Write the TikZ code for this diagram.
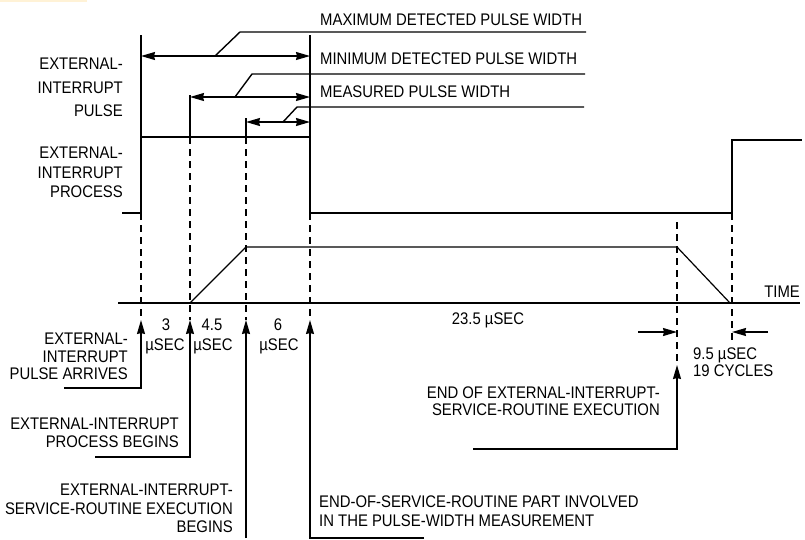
\documentclass[tikz,border=0pt]{standalone}
\usepackage{fontspec}
\setmainfont[FakeStretch=0.885]{Liberation Sans}
\usetikzlibrary{arrows.meta}
\definecolor{band}{RGB}{255,242,214}

\begin{document}
\begin{tikzpicture}[x=1pt,y=-1pt,
    sig/.style={line width=1.4pt},
    guide/.style={line width=1.1pt,dash pattern=on 7pt off 5pt},
    lbl/.style={inner sep=0pt,font=\fontsize{16.8}{#1}\selectfont},
    lbl/.default=18.5,
    tip/.style={-{Stealth[length=14pt,width=8pt,inset=1pt]}},
    dim/.style={{Stealth[length=14pt,width=8pt,inset=1pt]}-{Stealth[length=14pt,width=8pt,inset=1pt]}}]
  \useasboundingbox (0,0) rectangle (805,539);
  \fill[band] (0,0) rectangle (87,2);

  % labels on the left
  \node[lbl=23.5,align=right,anchor=north east] (pulse) at (123,58)
    {EXTERNAL-\\INTERRUPT\\PULSE};
  \node[lbl=19.5,align=right,anchor=north east] (proc) at (123,147)
    {EXTERNAL-\\INTERRUPT\\PROCESS};
  \node[lbl,anchor=east] (time) at (800,292) {TIME};

  % widths at the top
  \node[lbl,anchor=west] (maxw) at (320,20) {MAXIMUM DETECTED PULSE WIDTH};
  \node[lbl,anchor=west] (minw) at (320,59) {MINIMUM DETECTED PULSE WIDTH};
  \node[lbl,anchor=west] (meas) at (320,92) {MEASURED PULSE WIDTH};

  \draw[sig] (141,35) -- (141,137);
  \draw[sig] (310,35) -- (310,137);
  \draw[sig] (190,95) -- (190,137);
  \draw[sig] (246,118) -- (246,137);

  \coordinate (maxa) at (141,56);  \coordinate (maxb) at (310,56);
  \coordinate (mina) at (190,97);  \coordinate (minb) at (310,97);
  \coordinate (msa) at (246,122);  \coordinate (msb) at (310,122);
  \draw[sig,dim] (maxa) -- (maxb);
  \draw[sig,dim] (mina) -- (minb);
  \draw[sig,dim] (msa) -- (msb);
  \draw[sig] (215,56) -- (240,32) -- (586,32);
  \draw[sig] (235,97) -- (252,74) -- (585,74);
  \draw[sig] (283,122) -- (297,107) -- (584,107);

  % signals
  \draw[sig] (122,213) -- (141,213) -- (141,137) -- (310,137) -- (310,213)
    -- (732,213) -- (732,140) -- (802,140);
  \draw[sig] (118,303) -- (800,303);
  \draw[sig,line width=1.2pt] (190,303) -- (246,247) -- (677,247) -- (730,303);

  % time marks
  \coordinate (p1) at (141,320);
  \coordinate (p2) at (190,320);
  \coordinate (p3) at (246,320);
  \coordinate (p4) at (310,320);
  \coordinate (p5) at (677,365);
  \draw[guide] (141,213) -- (p1);
  \draw[guide] (190,137) -- (p2);
  \draw[guide] (246,137) -- (p3);
  \draw[guide] (310,213) -- (p4);
  \draw[guide] (677,222) -- (p5);
  \draw[guide] (732,213) -- (732,342);

  \node[lbl,anchor=north] (d1) at (166,319) {3};
  \node[lbl,anchor=north] (u1) at (165,338.5) {µSEC};
  \node[lbl,anchor=north] (d2) at (212,319) {4.5};
  \node[lbl,anchor=north] (u2) at (213,338.5) {µSEC};
  \node[lbl,anchor=north] (d3) at (278,319) {6};
  \node[lbl,anchor=north] (u3) at (279,338.5) {µSEC};
  \node[lbl,anchor=north] (d4) at (488,313) {23.5 µSEC};
  \node[lbl=17,align=left,anchor=north west] (d5) at (693,348) {9.5 µSEC\\19 CYCLES};

  \coordinate (ea) at (638,332); \coordinate (eb) at (677,332);
  \coordinate (fa) at (768,332); \coordinate (fb) at (732,332);
  \draw[sig,tip] (ea) -- (eb);
  \draw[sig,tip] (fa) -- (fb);

  % callouts
  \node[lbl=17.5,align=right,anchor=north east] (arr) at (128,333)
    {EXTERNAL-\\INTERRUPT\\PULSE ARRIVES};
  \node[lbl=18,align=right,anchor=north east] (beg) at (179,418)
    {EXTERNAL-INTERRUPT\\PROCESS BEGINS};
  \node[lbl=18.5,align=right,anchor=north east] (isr) at (233,484)
    {EXTERNAL-INTERRUPT-\\SERVICE-ROUTINE EXECUTION\\BEGINS};
  \node[lbl=19,align=left,anchor=north west] (part) at (319,496)
    {END-OF-SERVICE-ROUTINE PART INVOLVED\\IN THE PULSE-WIDTH MEASUREMENT};
  \node[lbl=17,align=right,anchor=north east] (endx) at (660,387)
    {END OF EXTERNAL-INTERRUPT-\\SERVICE-ROUTINE EXECUTION};

  \coordinate (l1) at (64,388);
  \coordinate (l2) at (95,457);
  \coordinate (l3) at (246,538);
  \coordinate (l4) at (424,538);
  \coordinate (l5) at (473,449);
  \draw[sig,tip] (l1) -| (p1);
  \draw[sig,tip] (l2) -| (p2);
  \draw[sig,tip] (l3) -- (p3);
  \draw[sig,tip] (l4) -| (p4);
  \draw[sig,tip] (l5) -| (p5);
\end{tikzpicture}
\end{document}
